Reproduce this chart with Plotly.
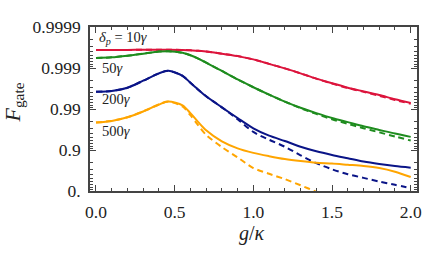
import math
import plotly.graph_objects as go

# g/kappa sample points (shared by all curves)
g_kappa = [0.0, 0.1, 0.2, 0.3, 0.4, 0.46, 0.55, 0.6, 0.65, 0.7, 0.8, 0.9, 1.0,
           1.1, 1.2, 1.3, 1.4, 1.5, 1.6, 1.7, 1.8, 1.9, 2.0]

# values are -log10(1 - F_gate)
red_full = [3.44, 3.44, 3.44, 3.445, 3.445, 3.445, 3.44, 3.43, 3.42, 3.40, 3.35, 3.29, 3.21,
            3.10, 2.99, 2.87, 2.74, 2.63, 2.52, 2.43, 2.34, 2.24, 2.15]
red_appr = [3.44, 3.44, 3.44, 3.445, 3.445, 3.445, 3.44, 3.43, 3.42, 3.40, 3.35, 3.29, 3.21,
            3.10, 2.99, 2.87, 2.74, 2.62, 2.51, 2.42, 2.32, 2.22, 2.13]

green_full = [3.245, 3.26, 3.30, 3.35, 3.40, 3.41, 3.37, 3.31, 3.23, 3.13, 2.93, 2.72, 2.53,
              2.35, 2.18, 2.03, 1.90, 1.78, 1.68, 1.58, 1.49, 1.40, 1.32]
green_appr = [3.245, 3.26, 3.30, 3.35, 3.40, 3.41, 3.37, 3.31, 3.23, 3.13, 2.93, 2.72, 2.53,
              2.35, 2.18, 2.02, 1.88, 1.75, 1.64, 1.53, 1.43, 1.33, 1.23]

blue_full = [2.42, 2.44, 2.52, 2.69, 2.87, 2.93, 2.81, 2.64, 2.47, 2.31, 2.04, 1.78, 1.53,
             1.35, 1.22, 1.08, 0.97, 0.88, 0.80, 0.72, 0.66, 0.61, 0.57]
blue_appr = [2.42, 2.44, 2.52, 2.69, 2.87, 2.93, 2.81, 2.64, 2.47, 2.31, 2.04, 1.75, 1.44,
             1.25, 1.08, 0.87, 0.68, 0.53, 0.41, 0.32, 0.23, 0.15, 0.07]

orange_full = [1.67, 1.71, 1.80, 1.94, 2.11, 2.18, 2.09, 1.90, 1.68, 1.48, 1.21, 1.04, 0.93,
               0.85, 0.78, 0.73, 0.69, 0.67, 0.64, 0.61, 0.56, 0.47, 0.34]
orange_appr = [1.67, 1.71, 1.80, 1.94, 2.11, 2.18, 2.06, 1.85, 1.60, 1.37, 1.07, 0.82, 0.56,
               0.42, 0.29, 0.14, -0.02, -0.2, -0.4, -0.6, -0.8, -1.0, -1.2]

series = [
    ("10γ", red_full, red_appr, "#DC143C"),
    ("50γ", green_full, green_appr, "#1E8C1E"),
    ("200γ", blue_full, blue_appr, "#0A1487"),
    ("500γ", orange_full, orange_appr, "#FFA500"),
]

y_tickvals = [0, 1, 2, 3, 4]
y_ticktext = ["0.", "0.9", "0.99", "0.999", "0.9999"]
x_tickvals = [0.0, 0.5, 1.0, 1.5, 2.0]
x_ticktext = ["0.0", "0.5", "1.0", "1.5", "2.0"]

# log-style minor ticks inside each decade of (1 - F)
y_minor = [k + 1 - math.log10(m) for k in range(4) for m in range(2, 10)]

labels = [
    ("<i>δ</i><sub><i>p</i></sub> = 10<i>γ</i>", 0.013, 3.72),
    ("50<i>γ</i>", 0.03, 3.0),
    ("200<i>γ</i>", 0.03, 2.24),
    ("500<i>γ</i>", 0.03, 1.47),
]

FONT = "Liberation Serif, DejaVu Serif, serif"

fig = go.Figure()
for name, full, appr, color in series:
    fig.add_scatter(x=g_kappa, y=full, mode="lines", name=name,
                    line=dict(color=color, width=2, shape="spline", smoothing=0.8))
    fig.add_scatter(x=g_kappa, y=appr, mode="lines", name=name + " approx",
                    line=dict(color=color, width=2, shape="spline", smoothing=0.8,
                              dash="6px,4px"))

for text, x, y in labels:
    fig.add_annotation(x=x, y=y, xref="x", yref="y", text=text, showarrow=False,
                       xanchor="left", yanchor="middle", borderpad=0,
                       font=dict(family=FONT, size=14.5, color="#222"))

# axis titles
fig.add_annotation(x=0.495, y=-0.26, xref="paper", yref="paper",
                   text="<i>g</i>/<i>κ</i>", showarrow=False,
                   xanchor="center", yanchor="middle",
                   font=dict(family=FONT, size=20, color="#222"))
fig.add_annotation(x=-0.232, y=0.54, xref="paper", yref="paper",
                   text="<i>F</i><sub>gate</sub>", showarrow=False, textangle=-90,
                   xanchor="center", yanchor="middle",
                   font=dict(family=FONT, size=22, color="#222"))

axis_common = dict(
    showgrid=False, zeroline=False, showline=True, linecolor="#444", linewidth=1.6,
    mirror="allticks", ticks="inside", tickcolor="#444", tickwidth=1, ticklen=6,
    tickfont=dict(family=FONT, size=17.5, color="#222"),
    automargin=False, ticklabeloverflow="allow", ticklabelstandoff=4,
)

fig.update_layout(
    width=425, height=255,
    margin=dict(l=90, r=8, t=27, b=64),
    plot_bgcolor="white", paper_bgcolor="white",
    showlegend=False,
    font=dict(family=FONT),
    xaxis=dict(range=[-0.038, 2.04], tickmode="array", tickvals=x_tickvals,
               ticktext=x_ticktext,
               minor=dict(tickmode="array",
                          tickvals=[i / 10 for i in range(0, 21) if i % 5],
                          ticks="inside", ticklen=3, tickcolor="#444"),
               **axis_common),
    yaxis=dict(range=[0, 4], tickmode="array", tickvals=y_tickvals,
               ticktext=y_ticktext,
               minor=dict(tickmode="array", tickvals=y_minor,
                          ticks="inside", ticklen=3, tickcolor="#444"),
               **axis_common),
)

# the page body has a default 8px margin; drop it so the figure fills the window
fig.write_html("out.html", config={"displayModeBar": False},
               post_script="document.body.style.margin='0';"
                           "document.body.style.overflow='hidden';")
